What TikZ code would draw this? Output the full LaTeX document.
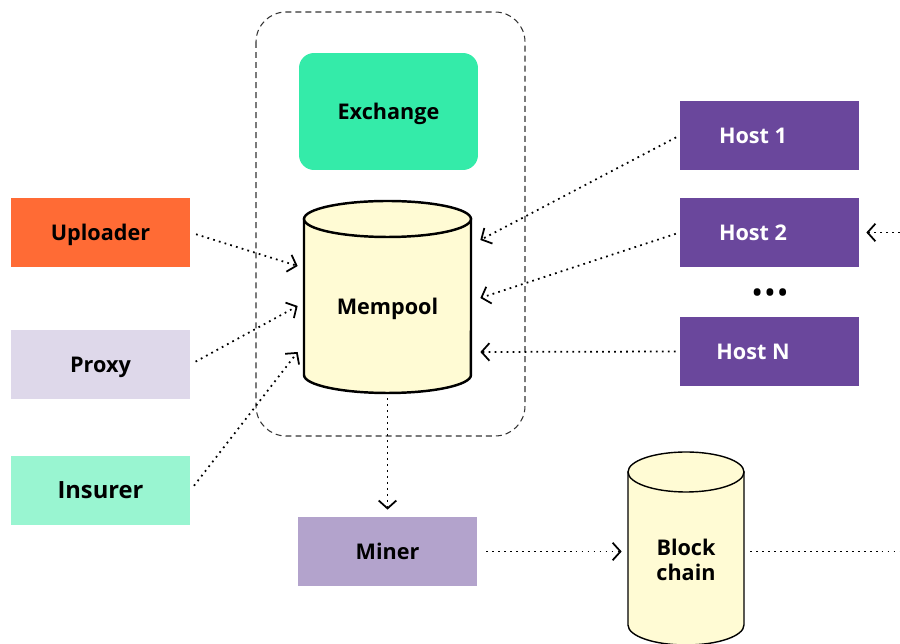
\documentclass[tikz,border=0pt]{standalone}
\usepackage{fontspec}
\setmainfont{Open Sans}
\usetikzlibrary{arrows.meta,calc}

\definecolor{exch}{HTML}{34EBA9}
\definecolor{upl}{HTML}{FF6B35}
\definecolor{prox}{HTML}{DED8EA}
\definecolor{insr}{HTML}{99F5D1}
\definecolor{hostc}{HTML}{6A479C}
\definecolor{minr}{HTML}{B3A3CC}
\definecolor{cil}{HTML}{FFFBD4}

\begin{document}
\begin{tikzpicture}[x=0.02cm, y=-0.02cm,
        caixa/.style={minimum width=3.58cm, minimum height=1.38cm, inner sep=0pt, text height=1.8ex, text depth=0pt, font=\bfseries\fontsize{12.3}{14.5}\selectfont},
        seta/.style={line width=1pt, dash pattern=on 1pt off 2.4pt, -{Straight Barb[length=4.5pt, width=10pt]}},
        linha/.style={line width=1pt, dash pattern=on 1pt off 2.4pt}]
    \useasboundingbox (0,0) rectangle (900,644);
    % caixa tracejada em volta do mempool
    \draw[black!80, line width=0.6pt, dash pattern=on 3.4pt off 2.3pt, rounded corners=0.6cm] (256,12) rectangle (525,436);
    % exchange
    \node[caixa, fill=exch, rounded corners=0.3cm, minimum height=2.34cm] (ex) at (388.5,111.5) {Exchange};
    % cilindro do mempool
    \filldraw[fill=cil, line width=1.4pt] (304,219) -- (304,375) arc[start angle=180, end angle=360, x radius=1.67cm, y radius=0.36cm] -- (471,219) -- cycle;
    \filldraw[fill=cil, line width=1.4pt] (387.5,219) ellipse [x radius=1.67cm, y radius=0.36cm];
    \node[caixa, minimum width=3.34cm, minimum height=3.44cm] (mem) at (387.5,306) {Mempool};
    % cilindro da blockchain
    \filldraw[fill=cil, line width=0.8pt] (628,472) -- (628,625) arc[start angle=180, end angle=360, x radius=1.16cm, y radius=0.4cm] -- (744,472) -- cycle;
    \filldraw[fill=cil, line width=0.8pt] (686,472) ellipse [x radius=1.16cm, y radius=0.4cm];
    \node[caixa, minimum width=2.32cm, align=center, text height=, text depth=] (bc) at (686,560) {Block\\chain};
    % caixas da esquerda
    \node[caixa, fill=upl] (up) at (100.5,232.5) {Uploader};
    \node[caixa, fill=prox] (px) at (100.5,364.5) {Proxy};
    \node[caixa, fill=insr, font=\bfseries\fontsize{13.5}{15}\selectfont] (ins) at (100.5,490.5) {Insurer};
    % hosts
    \foreach \nome/\y/\txt in {h1/135.5/Host 1, h2/232.5/Host 2, hn/351.5/Host N}{
        \node[caixa, fill=hostc, label={[caixa, minimum width=0pt, minimum height=0pt, text=white, xshift=-0.33cm]center:\txt}] (\nome) at (769.5,\y) {};
    }
    \node[font=\bfseries\fontsize{14}{14}\selectfont] (pts) at (770,295) {•\hspace{2pt}•\hspace{2pt}•};
    % miner
    \node[caixa, fill=minr] (mi) at (387.5,551.5) {Miner};
    % setas para o mempool
    \draw[seta, shorten <=3.4pt] (up.east) -- ($(mem.west)+(-6,-40)$);
    \draw[seta, shorten <=3.4pt] (px.east) -- ($(mem.west)+(-6,0)$);
    \draw[seta, shorten <=3.4pt] (ins.east) -- ($(mem.west)+(-6,46)$);
    \draw[seta, shorten <=2.3pt] (h1.west) -- ($(mem.east)+(9,-66)$);
    \draw[seta, shorten <=2.3pt] (h2.west) -- ($(mem.east)+(9,-8)$);
    \draw[seta, shorten <=2.3pt] (hn.west) -- ($(mem.east)+(9,46)$);
    \coordinate (fora) at (900,232.5);
    \draw[seta] (fora) -- ($(h2.east)+(7,0)$);
    % mempool -> miner -> blockchain
    \draw[seta, shorten <=3.4pt, shorten >=4pt] (mem.south) -- (mi.north);
    \draw[seta, shorten <=5pt, shorten >=3.4pt] (mi.east) -- (mi.east -| bc.west);
    \coordinate (fim) at (900,551.5);
    \draw[linha, shorten <=3.4pt] (bc.east |- mi.east) -- (fim);
\end{tikzpicture}
\end{document}
